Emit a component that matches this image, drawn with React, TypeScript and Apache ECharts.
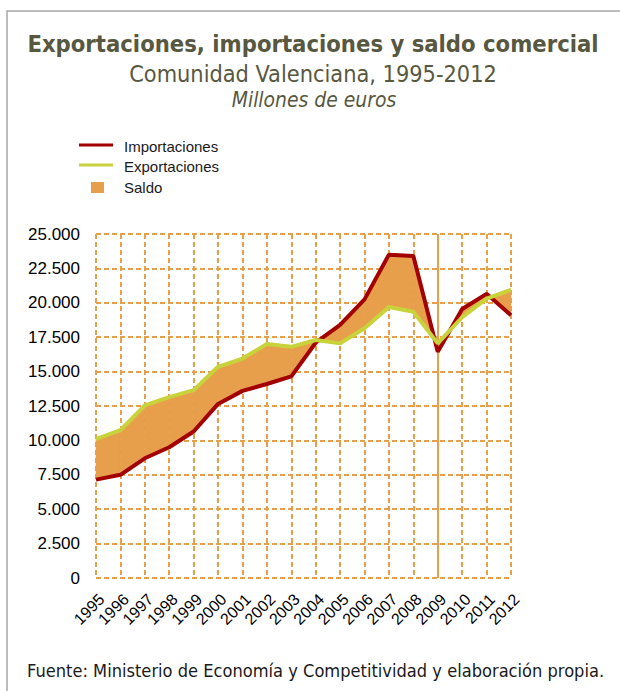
import React, { useEffect, useRef } from "react";
import * as echarts from "echarts";

const years = [
  "1995", "1996", "1997", "1998", "1999", "2000", "2001", "2002", "2003",
  "2004", "2005", "2006", "2007", "2008", "2009", "2010", "2011", "2012",
];
const importaciones = [
  7150, 7500, 8700, 9500, 10650, 12650, 13600, 14100, 14650,
  17100, 18400, 20250, 23500, 23400, 16450, 19550, 20650, 19100,
];
const exportaciones = [
  10100, 10750, 12550, 13150, 13650, 15350, 15950, 17000, 16800,
  17300, 17050, 18150, 19700, 19350, 17050, 18950, 20300, 20950,
];
const yMin = 0;
const yMax = 25000;
const yStep = 2500;
const markYear = "2009";
const legendNames = ["Importaciones", "Exportaciones", "Saldo"];

const ORANGE = "#E89F4C";
const RED = "#A30000";
const GREEN = "#C8D23A";
const TITLE_COLOR = "#585841";
const FONT = "'DejaVu Sans Condensed', 'DejaVu Sans', sans-serif";
const LFONT = "'Liberation Sans', sans-serif";

const fmt = (v: number) => String(v).replace(/\B(?=(\d{3})+(?!\d))/g, ".");

export default function App() {
  const ref = useRef<HTMLDivElement>(null);
  useEffect(() => {
    const chart = echarts.init(ref.current!, null, { renderer: "svg" });
    const option: any = {
      animation: false,
      backgroundColor: "#ffffff",
      grid: { left: 96, top: 234, right: 109, bottom: 113, containLabel: false },
      xAxis: {
        type: "category",
        data: years,
        boundaryGap: false,
        axisLine: { show: false },
        axisTick: { show: false },
        axisLabel: {
          interval: 0,
          rotate: 45,
          margin: 13,
          verticalAlign: "top",
          color: "#000",
          fontSize: 16,
          fontFamily: LFONT,
        },
        splitLine: {
          show: true,
          interval: 0,
          lineStyle: { color: ORANGE, width: 2, type: [5, 3] },
        },
      },
      yAxis: {
        type: "value",
        min: yMin,
        max: yMax,
        interval: yStep,
        axisLine: { show: false },
        axisTick: { show: false },
        axisLabel: {
          margin: 16,
          color: "#000",
          fontSize: 17,
          fontFamily: LFONT,
          formatter: (v: number) => fmt(v),
        },
        splitLine: {
          show: true,
          lineStyle: { color: ORANGE, width: 2, type: [5, 3] },
        },
      },
      series: [
        {
          name: legendNames[2],
          type: "custom",
          z: 1,
          data: years.map((y, i) => [i, importaciones[i], exportaciones[i]]),
          encode: { x: 0, y: [1, 2] },
          renderItem: (params: any, api: any) => {
            const i = params.dataIndex;
            if (i >= years.length - 1) return null;
            const p1 = api.coord([i, importaciones[i]]);
            const p2 = api.coord([i + 1, importaciones[i + 1]]);
            const p3 = api.coord([i + 1, exportaciones[i + 1]]);
            const p4 = api.coord([i, exportaciones[i]]);
            return {
              type: "polygon",
              shape: { points: [p1, p2, p3, p4] },
              style: { fill: ORANGE, stroke: ORANGE, lineWidth: 0.6 },
            };
          },
        },
        {
          name: legendNames[0],
          type: "line",
          z: 3,
          data: importaciones,
          symbol: "none",
          lineStyle: { color: RED, width: 4 },
          markLine: {
            silent: true,
            symbol: "none",
            label: { show: false },
            lineStyle: { color: ORANGE, width: 2, type: "solid" },
            data: [{ xAxis: markYear }],
            z: 2,
          },
        },
        {
          name: legendNames[1],
          type: "line",
          z: 4,
          data: exportaciones,
          symbol: "none",
          lineStyle: { color: GREEN, width: 4 },
        },
      ],
      graphic: [
        {
          type: "rect",
          shape: { x: 7, y: 11, width: 640, height: 720 },
          style: { fill: "none", stroke: "#A8A8A8", lineWidth: 1.5 },
          silent: true,
        },
        {
          type: "text",
          x: 313,
          y: 44,
          style: {
            text: "Exportaciones, importaciones y saldo comercial",
            fill: TITLE_COLOR,
            font: `bold 23.6px ${FONT}`,
            align: "center",
            verticalAlign: "middle",
          },
        },
        {
          type: "text",
          x: 313,
          y: 73,
          style: {
            text: "Comunidad Valenciana, 1995-2012",
            fill: TITLE_COLOR,
            font: `23.3px ${FONT}`,
            align: "center",
            verticalAlign: "middle",
          },
        },
        {
          type: "text",
          x: 314,
          y: 100,
          style: {
            text: "Millones de euros",
            fill: TITLE_COLOR,
            font: `italic 20.9px ${FONT}`,
            align: "center",
            verticalAlign: "middle",
          },
        },
        {
          type: "line",
          shape: { x1: 79, y1: 145, x2: 113, y2: 145 },
          style: { stroke: RED, lineWidth: 3 },
        },
        {
          type: "text",
          x: 124,
          y: 146,
          style: {
            text: legendNames[0],
            fill: "#1a1a1a",
            font: `15px ${LFONT}`,
            verticalAlign: "middle",
          },
        },
        {
          type: "line",
          shape: { x1: 79, y1: 165, x2: 113, y2: 165 },
          style: { stroke: GREEN, lineWidth: 3 },
        },
        {
          type: "text",
          x: 124,
          y: 166,
          style: {
            text: legendNames[1],
            fill: "#1a1a1a",
            font: `15px ${LFONT}`,
            verticalAlign: "middle",
          },
        },
        {
          type: "rect",
          shape: { x: 91, y: 182, width: 13, height: 11 },
          style: { fill: ORANGE },
        },
        {
          type: "text",
          x: 124,
          y: 187,
          style: {
            text: legendNames[2],
            fill: "#1a1a1a",
            font: `15px ${LFONT}`,
            verticalAlign: "middle",
          },
        },
        {
          type: "text",
          x: 27,
          y: 670,
          style: {
            text: "Fuente: Ministerio de Economía y Competitividad y elaboración propia.",
            fill: "#1a1a1a",
            font: `18.1px ${FONT}`,
            verticalAlign: "middle",
          },
        },
      ],
    };
    chart.setOption(option);
    return () => chart.dispose();
  }, []);
  return (
    <div
      ref={ref}
      style={{ position: "absolute", left: 0, top: 0, width: 620, height: 691, background: "#fff" }}
    />
  );
}
